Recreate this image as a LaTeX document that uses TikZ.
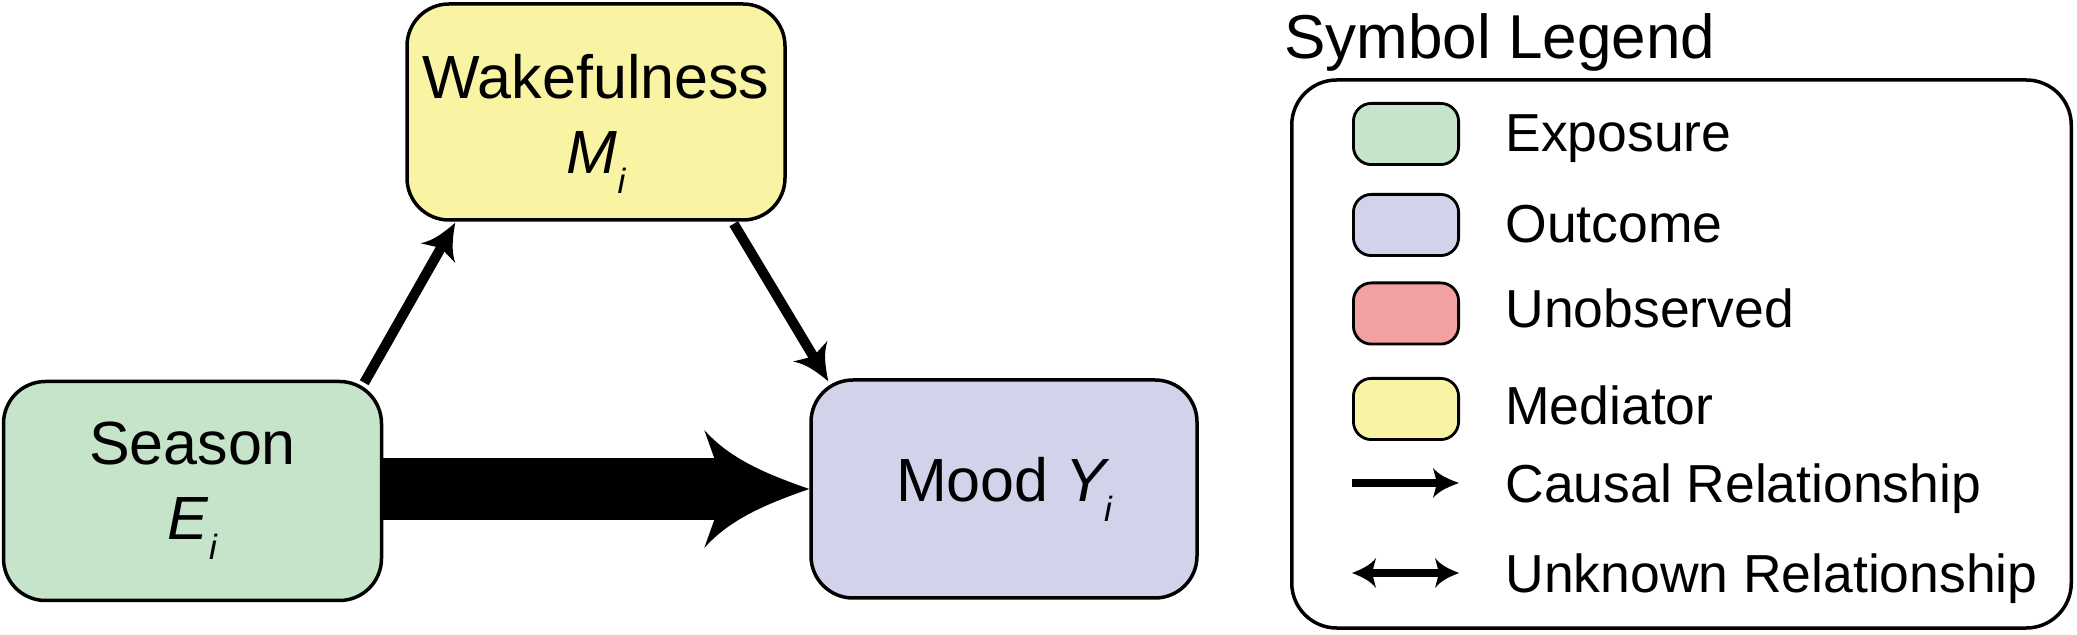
\documentclass[tikz,border=0pt]{standalone}
\usepackage{fontspec}
\setmainfont{Liberation Sans}
\usetikzlibrary{arrows.meta,calc}

\pgfdeclarearrow{
  name = CurvyTip,
  parameters = {\the\pgfarrowlength,\the\pgfarrowwidth,\the\pgfarrowinset},
  setup code = {
    \pgfarrowssettipend{\pgfarrowlength}
    \pgfarrowssetlineend{\pgfarrowinset}
    \pgfarrowssetbackend{0pt}
    \pgfarrowssavethe\pgfarrowlength
    \pgfarrowssavethe\pgfarrowwidth
    \pgfarrowssavethe\pgfarrowinset
  },
  drawing code = {
    \pgfpathmoveto{\pgfqpoint{\pgfarrowlength}{0pt}}
    \pgfpathcurveto{\pgfpoint{.6\pgfarrowlength}{.125\pgfarrowwidth}}{\pgfpoint{.25\pgfarrowlength}{.25\pgfarrowwidth}}{\pgfpoint{0pt}{.5\pgfarrowwidth}}
    \pgfpathlineto{\pgfpoint{\pgfarrowinset}{0pt}}
    \pgfpathlineto{\pgfpoint{0pt}{-.5\pgfarrowwidth}}
    \pgfpathcurveto{\pgfpoint{.25\pgfarrowlength}{-.25\pgfarrowwidth}}{\pgfpoint{.6\pgfarrowlength}{-.125\pgfarrowwidth}}{\pgfpoint{\pgfarrowlength}{0pt}}
    \pgfpathclose
    \pgfusepathqfill
  },
  defaults = {length=10pt, width=10pt, inset=2pt}
}

\definecolor{expgreen}{RGB}{197,228,201}
\definecolor{outpurple}{RGB}{210,210,234}
\definecolor{unobsred}{RGB}{243,160,162}
\definecolor{medyellow}{RGB}{248,244,163}

\newcommand{\lowsub}[1]{\raisebox{-10pt}{\fontsize{17.5}{20}\selectfont\itshape #1}}

\begin{document}
\begin{tikzpicture}[x=0.5pt,y=-0.5pt,
  varbox/.style={draw=black, line width=1.75pt, rounded corners=21pt, inner sep=0pt,
    align=center, font=\fontsize{30.5}{37.5}\selectfont},
  swatch/.style={draw=black, line width=1.4pt, rounded corners=9pt,
    minimum width=52.6pt, minimum height=30.6pt, inner sep=0pt},
  legtext/.style={anchor=base west, inner sep=0pt, font=\fontsize{26.75}{30}\selectfont},
  thinarrow/.style={line width=5pt, -{CurvyTip[length=17.5pt,width=20pt,inset=3pt]}},
  bigarrow/.style={line width=31pt, -{CurvyTip[length=52.5pt,width=59pt,inset=10.5pt]}},
  legarrow/.style={line width=3.75pt, -{CurvyTip[length=13pt,width=15pt,inset=2pt]}},
  legarrowboth/.style={line width=3.75pt, {CurvyTip[length=12pt,width=15pt,inset=2pt]}-{CurvyTip[length=12pt,width=15pt,inset=2pt]}},
]
\useasboundingbox (0,0) rectangle (2077,635);

% main diagram
\node[varbox, fill=expgreen, minimum width=189pt, minimum height=109.5pt] (season) at (192.5,491)
  {Season\\\textit{E}\lowsub{i}};
\node[varbox, fill=medyellow, minimum width=189pt, minimum height=108pt] (wake) at (596,112)
  {\rule{0pt}{34pt}Wakefulness\\\textit{M}\lowsub{i}};
\node[varbox, fill=outpurple, minimum width=193pt, minimum height=109pt] (mood) at (1004,489)
  {Mood \textit{Y}\kern-3pt\lowsub{i}};

\draw[thinarrow] ($(season.north east)+(-19,3)$) -- ($(wake.south west)+(50,1)$);
\draw[thinarrow] ($(wake.south east)+(-53,2)$) -- ($(mood.north west)+(19,3)$);
\draw[bigarrow] (season.east |- mood.west) -- (mood.west);

% legend
\node[anchor=base west, inner sep=0pt, font=\fontsize{31}{37}\selectfont] (legtitle) at (1284,59) {Symbol Legend};
\node[draw=black, line width=1.75pt, rounded corners=22.5pt, minimum width=389.75pt,
  minimum height=274pt, inner sep=0pt] (legendbox) at (1681.5,354) {};

\node[swatch, fill=expgreen] (swexp) at (1406,134) {};
\node[swatch, fill=outpurple] (swout) at (1406,225) {};
\node[swatch, fill=unobsred] (swunobs) at (1406,313.5) {};
\node[swatch, fill=medyellow] (swmed) at (1406,409) {};

\node[legtext] (lexp) at (1505,152) {Exposure};
\node[legtext] (lout) at (1505,243) {Outcome};
\node[legtext] (lunobs) at (1505,328) {Unobserved};
\node[legtext] (lmed) at (1505,425) {Mediator};
\node[legtext] (lcausal) at (1505,503) {Causal Relationship};
\node[legtext] (lunknown) at (1505,593) {Unknown Relationship};

\coordinate (ca1) at (1352,483);
\coordinate (ca2) at (1459,483);
\coordinate (un1) at (1352,573);
\coordinate (un2) at (1459,573);
\draw[legarrow] (ca1) -- (ca2);
\draw[legarrowboth] (un1) -- (un2);
\end{tikzpicture}
\end{document}
